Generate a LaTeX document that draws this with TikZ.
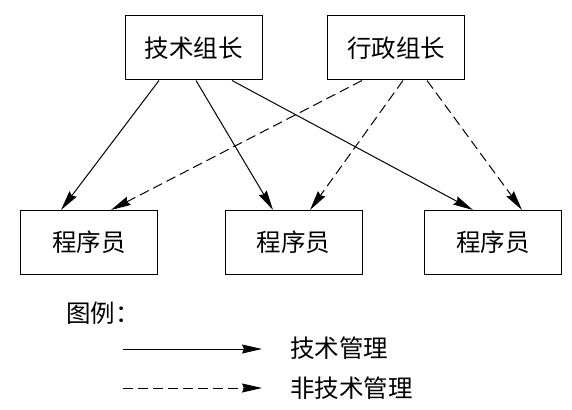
\documentclass[tikz,border=0pt]{standalone}
\usepackage{fontspec}
\setmainfont{Noto Sans CJK SC}
\usetikzlibrary{arrows.meta}
\begin{document}
\begin{tikzpicture}[x=1pt,y=-1pt,
  box/.style={draw,line width=1pt,minimum width=137pt,minimum height=64pt,inner sep=0pt,font=\fontsize{24.5pt}{28pt}\selectfont},
  lbl/.style={font=\fontsize{24.5pt}{28pt}\selectfont,inner sep=0pt,anchor=west},
  arr/.style={line width=1pt,-{Stealth[length=20pt,width=9pt,inset=2pt]}},
  darr/.style={arr,dash pattern=on 10pt off 5pt}]
\useasboundingbox (0,0) rectangle (572,409);
\node[box] (t1) at (193.5,48) {技术组长};
\node[box] (t2) at (396,48) {行政组长};
\node[box] (p1) at (89,242.5) {程序员};
\node[box] (p2) at (293.5,242.5) {程序员};
\node[box] (p3) at (493,242.5) {程序员};
\draw[arr] ([xshift=-34.5pt]t1.south) -- ([xshift=-28pt]p1.north);
\draw[arr] ([xshift=2.5pt]t1.south) -- ([xshift=-20.5pt]p2.north);
\draw[arr] ([xshift=38.5pt]t1.south) -- ([xshift=-20pt]p3.north);
\draw[darr] ([xshift=-34pt]t2.south) -- ([xshift=22pt]p1.north);
\draw[darr] ([xshift=7pt]t2.south) -- ([xshift=16.5pt]p2.north);
\draw[darr] ([xshift=31pt]t2.south) -- ([xshift=29pt]p3.north);
\node[lbl] (leg) at (66,313) {图例：};
\coordinate (a1) at (123,349);
\coordinate (b1) at (262,349);
\coordinate (a2) at (123,388);
\coordinate (b2) at (262,388);
\draw[arr] (a1) -- (b1);
\draw[darr] (a2) -- (b2);
\node[lbl] (l1) at (290,348) {技术管理};
\node[lbl] (l2) at (290,388) {非技术管理};
\end{tikzpicture}
\end{document}
